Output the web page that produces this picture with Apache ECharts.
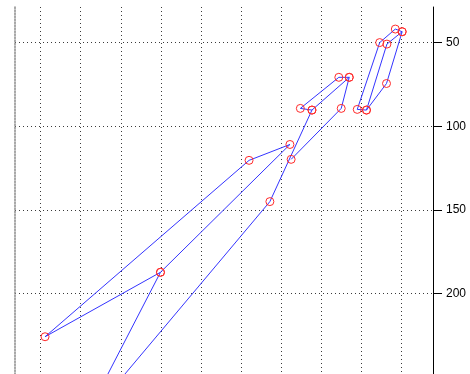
<!DOCTYPE html>
<html>
<head>
<meta charset="utf-8">
<style>
  html, body { margin: 0; padding: 0; background: #ffffff; }
  #chart { width: 470px; height: 374px; }
</style>
<script src="https://cdn.jsdelivr.net/npm/echarts@6/dist/echarts.min.js"></script>
</head>
<body>
<div id="chart"></div>
<script>
// Visible window of the axes
const xRange = [3.6, 107.9];
const yRange = [28.6, 248.3];

// Grid positions and labelled depths
const xGridValues = [10, 20, 30, 40, 50, 60, 70, 80, 90, 100];
const yTickValues = [50, 100, 150, 200];

// Track 1: loops in the lower left, dips below the window, then climbs
const track1X = [39.9, 11.1, 62.0, 72.2, 39.9, 20.0, 67.2, 77.7, 74.8, 84.4, 87.0, 85.0, 72.5];
const track1Y = [187.4, 226.0, 120.4, 110.9, 187.4, 279.8, 145.1, 90.3, 89.3, 70.7, 70.7, 89.3, 119.8];

// Track 2: short link in the middle cluster
const track2X = [77.7, 87.0];
const track2Y = [90.3, 70.7];

// Track 3: upper right cluster
const track3X = [91.3, 96.3, 100.2, 98.5, 94.6, 89.0, 91.3, 96.4, 100.2];
const track3Y = [90.3, 74.4, 43.4, 41.8, 49.9, 89.9, 90.3, 50.8, 43.4];

const tracks = [[track1X, track1Y], [track2X, track2Y], [track3X, track3Y]];

const dotted = { color: '#3a3a3a', width: 1, type: [1, 3] };

const series = tracks.map(function (t) {
  return {
    type: 'line',
    xAxisIndex: 0,
    yAxisIndex: 0,
    data: t[0].map(function (x, i) { return [x, t[1][i]]; }),
    symbol: 'circle',
    symbolSize: 8,
    showSymbol: true,
    showAllSymbol: true,
    clip: true,
    lineStyle: { color: '#3434ff', width: 1 },
    itemStyle: { color: 'rgba(0,0,0,0)', borderColor: '#ff2a2a', borderWidth: 1 },
    emphasis: { disabled: true },
    silent: true,
    animation: false
  };
});

const chart = echarts.init(document.getElementById('chart'), null, { renderer: 'canvas' });
chart.setOption({
  backgroundColor: '#ffffff',
  animation: false,
  grid: { left: 15, right: 37, top: 7, bottom: 0, outerBoundsMode: 'none' },
  xAxis: {
    type: 'value',
    min: xRange[0],
    max: xRange[1],
    axisLine: { show: false },
    axisTick: { show: false, customValues: xGridValues },
    axisLabel: { show: false, customValues: xGridValues },
    splitLine: { show: true, lineStyle: dotted }
  },
  yAxis: [
    {
      type: 'value',
      position: 'right',
      inverse: true,
      min: yRange[0],
      max: yRange[1],
      axisLine: { show: true, lineStyle: { color: '#000000', width: 1 } },
      axisTick: { show: true, inside: false, length: 9, customValues: yTickValues, lineStyle: { color: '#000000' } },
      axisLabel: {
        show: true,
        customValues: yTickValues,
        margin: 13,
        color: '#000000',
        fontFamily: 'Liberation Sans, Arial, sans-serif',
        fontSize: 12
      },
      splitLine: { show: true, lineStyle: dotted }
    },
    {
      type: 'value',
      position: 'left',
      inverse: true,
      min: yRange[0],
      max: yRange[1],
      axisLine: { show: true, lineStyle: { color: '#8a8a8a', width: 1.5, type: [1.5, 1.5] } },
      axisTick: { show: false },
      axisLabel: { show: false },
      splitLine: { show: false }
    }
  ],
  series: series
});
</script>
</body>
</html>
